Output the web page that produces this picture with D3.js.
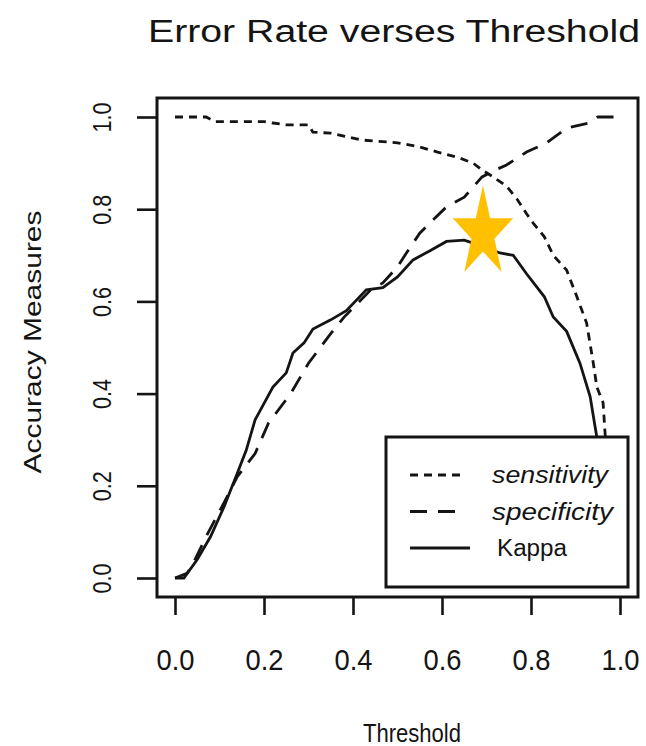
<!DOCTYPE html>
<html>
<head>
<meta charset="utf-8">
<script src="https://cdn.jsdelivr.net/npm/d3@7"></script>
<style>
    body { margin: 0; background: #fff; }
    text { font-family: "Liberation Sans", Arial, sans-serif; fill: #141414; }
</style>
</head>
<body>
<svg id="chart" width="646" height="746"></svg>
<script>
// values (threshold -> measure)
const sensitivityT = [0, 0.07, 0.09, 0.2, 0.22, 0.25, 0.3, 0.31, 0.35, 0.42, 0.5, 0.55, 0.59, 0.64, 0.67, 0.69,
    0.715, 0.745, 0.77, 0.79, 0.805, 0.83, 0.85, 0.88, 0.9, 0.925, 0.94, 0.948, 0.962, 0.966, 0.98, 1.0];
const sensitivityV = [1.0, 1.0, 0.99, 0.99, 0.987, 0.983, 0.983, 0.967, 0.965, 0.95, 0.944, 0.935, 0.924, 0.911, 0.9, 0.885,
    0.87, 0.85, 0.82, 0.79, 0.77, 0.74, 0.7, 0.668, 0.618, 0.553, 0.466, 0.414, 0.38, 0.32, 0.15, 0.0];

const specificityT = [0.0, 0.027, 0.04, 0.07, 0.11, 0.14, 0.18, 0.21, 0.26, 0.3, 0.35, 0.38, 0.44, 0.467, 0.5, 0.52,
    0.55, 0.58, 0.61, 0.65, 0.69, 0.72, 0.745, 0.79, 0.835, 0.88, 0.93, 0.95, 1.0];
const specificityV = [0.0, 0.01, 0.03, 0.09, 0.163, 0.22, 0.27, 0.336, 0.4, 0.466, 0.53, 0.566, 0.625, 0.64, 0.675, 0.705,
    0.748, 0.777, 0.805, 0.826, 0.87, 0.885, 0.896, 0.924, 0.944, 0.976, 0.987, 1.0, 1.0];

const kappaT = [0, 0.02, 0.05, 0.08, 0.11, 0.14, 0.16, 0.18, 0.22, 0.25, 0.265, 0.29, 0.31, 0.35, 0.385, 0.43, 0.467,
    0.5, 0.535, 0.573, 0.61, 0.65, 0.69, 0.73, 0.76, 0.79, 0.83, 0.85, 0.88, 0.91, 0.933, 0.944, 0.97, 1.0];
const kappaV = [0, 0, 0.04, 0.09, 0.154, 0.227, 0.277, 0.343, 0.414, 0.445, 0.488, 0.51, 0.54, 0.56, 0.58, 0.625, 0.63,
    0.653, 0.69, 0.71, 0.73, 0.733, 0.72, 0.705, 0.7, 0.66, 0.61, 0.566, 0.535, 0.466, 0.393, 0.328, 0.18, 0.0];

const tickValues = [0, 0.2, 0.4, 0.6, 0.8, 1.0];
const legendLabels = ["sensitivity", "specificity", "Kappa"];
const legendDash = ["8,6", "17,11", null];
const starPoint = [0.692, 0.748];

const svg = d3.select("#chart");
const x = d3.scaleLinear().domain([0, 1]).range([175, 620]);
const y = d3.scaleLinear().domain([0, 1]).range([578, 117]);

// plot frame (R style, 4% padding)
const box = {left: 157, right: 638, top: 98, bottom: 597};

const fmt = d3.format(".1f");

// x axis
const xAxis = svg.append("g")
    .attr("transform", `translate(0,${box.bottom})`)
    .call(d3.axisBottom(x).tickValues(tickValues).tickFormat(fmt).tickSize(18).tickSizeOuter(0));
xAxis.select(".domain").remove();
xAxis.selectAll(".tick line").attr("stroke", "#141414").attr("stroke-width", 2.6);
xAxis.selectAll(".tick text")
    .attr("y", 73)
    .attr("dy", null)
    .style("font-size", "30px")
    .attr("textLength", 38)
    .attr("lengthAdjust", "spacingAndGlyphs");

// y axis
const yAxis = svg.append("g")
    .attr("transform", `translate(${box.left},0)`)
    .call(d3.axisLeft(y).tickValues(tickValues).tickFormat(fmt).tickSize(20).tickSizeOuter(0));
yAxis.select(".domain").remove();
yAxis.selectAll(".tick line").attr("stroke", "#141414").attr("stroke-width", 2.6);
yAxis.selectAll(".tick text")
    .attr("x", null).attr("dy", null)
    .attr("transform", "translate(-46,0) rotate(-90)")
    .attr("text-anchor", "middle")
    .attr("y", 0)
    .style("font-size", "25px")
    .attr("textLength", 30)
    .attr("lengthAdjust", "spacingAndGlyphs");

// series
const line = d3.line().x(d => x(d[0])).y(d => y(d[1]));
const series = [
    {t: sensitivityT, v: sensitivityV, dash: legendDash[0]},
    {t: specificityT, v: specificityV, dash: legendDash[1]},
    {t: kappaT, v: kappaV, dash: legendDash[2]}
];
svg.append("g").selectAll("path")
    .data(series).enter()
    .append("path")
    .attr("d", s => line(d3.zip(s.t, s.v)))
    .attr("fill", "none")
    .attr("stroke", "#141414")
    .attr("stroke-width", 2.8)
    .attr("stroke-dasharray", s => s.dash);

// legend (white background hides the curves behind it)
const lg = svg.append("g");
lg.append("rect")
    .attr("x", 386).attr("y", 437)
    .attr("width", 242).attr("height", 150)
    .attr("fill", "#fff")
    .attr("stroke", "#141414")
    .attr("stroke-width", 3);
const rows = lg.selectAll(".row")
    .data(legendLabels).enter()
    .append("g")
    .attr("transform", (d, i) => `translate(0,${475 + i * 36.5})`);
rows.append("line")
    .attr("x1", 410).attr("x2", (d, i) => i === 1 ? 464 : (i === 0 ? 460 : 470))
    .attr("stroke", "#141414")
    .attr("stroke-width", 2.8)
    .attr("stroke-dasharray", (d, i) => legendDash[i]);
rows.append("text")
    .attr("x", (d, i) => i === 2 ? 497 : 492)
    .attr("y", 8)
    .style("font-size", "23px")
    .style("font-style", (d, i) => i < 2 ? "italic" : "normal")
    .attr("textLength", (d, i) => [116, 121, 70][i])
    .attr("lengthAdjust", "spacingAndGlyphs")
    .text(d => d);

// frame
svg.append("rect")
    .attr("x", box.left).attr("y", box.top)
    .attr("width", box.right - box.left).attr("height", box.bottom - box.top)
    .attr("fill", "none")
    .attr("stroke", "#141414")
    .attr("stroke-width", 3);

// highlighted point
svg.append("path")
    .attr("d", d3.symbol(d3.symbolStar, 2586)())
    .attr("transform", `translate(${x(starPoint[0])},${y(starPoint[1])}) scale(0.66,1)`)
    .attr("fill", "#FFC000");

// titles
svg.append("text")
    .attr("x", 148).attr("y", 42)
    .style("font-size", "31px")
    .attr("textLength", 492)
    .attr("lengthAdjust", "spacingAndGlyphs")
    .text("Error Rate verses Threshold");

svg.append("text")
    .attr("x", 412).attr("y", 742)
    .attr("text-anchor", "middle")
    .style("font-size", "25px")
    .attr("textLength", 98)
    .attr("lengthAdjust", "spacingAndGlyphs")
    .text("Threshold");

svg.append("text")
    .attr("transform", "translate(41,342) rotate(-90)")
    .attr("text-anchor", "middle")
    .style("font-size", "24px")
    .attr("textLength", 263)
    .attr("lengthAdjust", "spacingAndGlyphs")
    .text("Accuracy Measures");
</script>
</body>
</html>
